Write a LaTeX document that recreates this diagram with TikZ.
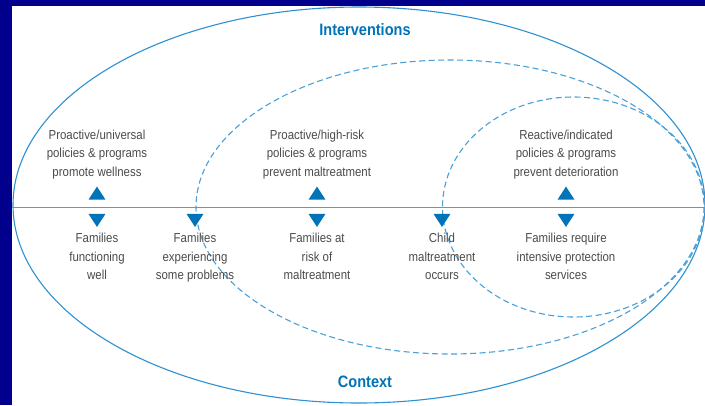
\documentclass[tikz,border=0pt]{standalone}
\usepackage{fontspec}
\setmainfont{Liberation Sans}[FakeStretch=0.88]
\usetikzlibrary{positioning, shapes.geometric}
\definecolor{framenavy}{RGB}{0,0,140}
\definecolor{linkblue}{RGB}{45,145,210}
\definecolor{dashblue}{RGB}{75,160,215}
\definecolor{markblue}{RGB}{0,115,185}
\definecolor{textgray}{RGB}{75,75,75}
\tikzset{%
  stagetext/.style={align=center, text=textgray, inner sep=0pt,
    font=\fontsize{13}{18.5}\selectfont},
  markertri/.style={isosceles triangle, isosceles triangle apex angle=66,
    fill=markblue, inner sep=0pt, minimum height=13pt},
  upmark/.style={markertri, shape border rotate=90},
  downmark/.style={markertri, shape border rotate=-90},
  titletext/.style={text=markblue, font=\fontsize{16.5}{18}\selectfont\bfseries},
  outerline/.style={draw=linkblue, line width=1.1pt},
  axisline/.style={draw=dashblue, line width=1pt},
  dashring/.style={draw=dashblue, line width=1.1pt, dash pattern=on 6pt off 3.5pt}
}

\begin{document}
\begin{tikzpicture}[x=1pt, y=-1pt]
  \useasboundingbox (0,0) rectangle (705,405);
  \fill[framenavy] (0,0) rectangle (705,405);
  \fill[white] (12,6) rectangle (705,405);

  % the three circles of care
  \draw[outerline] (359,205) ellipse [x radius=346, y radius=198];
  \draw[dashring] (450,207) ellipse [x radius=254, y radius=147];
  \draw[dashring] (573.5,207) ellipse [x radius=131, y radius=110];

  \coordinate (axisL) at (12,207);
  \coordinate (axisR) at (705,207);
  \draw[axisline] (axisL) -- (axisR);

  \node[titletext] (ivn) at (365,30) {Interventions};
  \node[titletext] (ctx) at (365,382) {Context};

  % markers above the line
  \node[upmark] (u1) at (97,195) {};
  \node[upmark] (u3) at (317,195) {};
  \node[upmark] (u5) at (566,195) {};

  % markers below the line
  \node[downmark] (d1) at (97,218.5) {};
  \node[downmark] (d2) at (195,218.5) {};
  \node[downmark] (d3) at (317,218.5) {};
  \node[downmark] (d4) at (442,218.5) {};
  \node[downmark] (d5) at (566,218.5) {};

  \node[stagetext,above=7pt of u1] (p1) {Proactive/universal\\policies \& programs\\promote wellness};
  \node[stagetext,above=7pt of u3] (p3) {Proactive/high-risk\\policies \& programs\\prevent maltreatment};
  \node[stagetext,above=7pt of u5] (p5) {Reactive/indicated\\policies \& programs\\prevent deterioration};

  \node[stagetext,below=6pt of d1] (f1) {Families\\functioning\\well};
  \node[stagetext,below=6pt of d2] (f2) {Families\\experiencing\\some problems};
  \node[stagetext,below=6pt of d3] (f3) {Families at\\risk of\\maltreatment};
  \node[stagetext,below=6pt of d4] (f4) {Child\\maltreatment\\occurs};
  \node[stagetext,below=6pt of d5] (f5) {Families require\\intensive protection\\services};
\end{tikzpicture}
\end{document}
